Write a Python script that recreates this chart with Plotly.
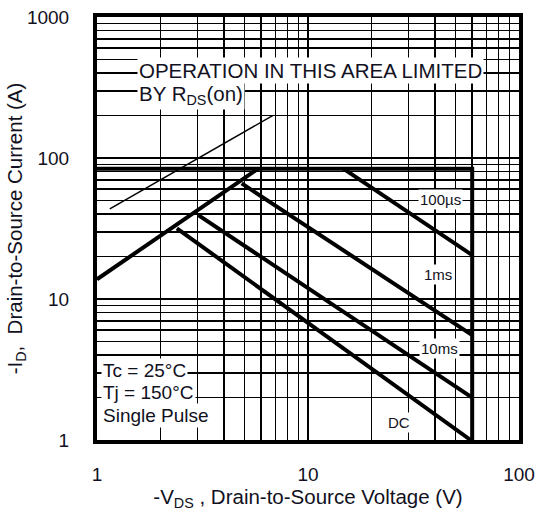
import math
import plotly.graph_objects as go

# ---- data ----
limit_v = [1, 60, 60]
limit_i = [84, 84, 1]
rds_v = [1, 5.8]
rds_i = [13.8, 84]
us100_v = [14.7, 60]
us100_i = [84, 20.5]
ms1_v = [4.85, 60]
ms1_i = [66, 5.55]
ms10_v = [3.02, 60]
ms10_i = [39.4, 2.0]
dc_v = [2.39, 59]
dc_i = [31.7, 1.0]
ref_v = [1.15, 6.8]
ref_i = [43.5, 200]

x_major = [1, 10, 100]
x_major_text = ["1", "10", "100"]
x_minor = [2, 3, 4, 5, 6, 7, 8, 9, 20, 30, 40, 50, 60, 70, 80, 90]
y_major = [1, 10, 100, 1000]
y_major_text = ["1", "10", "100", "1000"]
y_minor = [2, 3, 4, 5, 6, 7, 8, 9, 20, 30, 40, 50, 60, 70, 80, 90,
           200, 300, 400, 500, 600, 700, 800, 900]

FONT = "Liberation Sans, Arial, sans-serif"
INK = "#111122"

fig = go.Figure()
thick = dict(color="black", width=4)
for xs, ys in [(limit_v, limit_i), (rds_v, rds_i), (us100_v, us100_i),
               (ms1_v, ms1_i), (ms10_v, ms10_i), (dc_v, dc_i)]:
    fig.add_trace(go.Scatter(x=xs, y=ys, mode="lines", line=thick,
                             hoverinfo="skip", showlegend=False))
fig.add_trace(go.Scatter(x=ref_v, y=ref_i, mode="lines",
                         line=dict(color="black", width=1.5),
                         hoverinfo="skip", showlegend=False))

def ann(text, v, i, size, xanchor="center"):
    fig.add_annotation(x=math.log10(v), y=math.log10(i), xref="x", yref="y",
                       text=text, showarrow=False, xanchor=xanchor,
                       yanchor="middle", bgcolor="white", borderpad=1,
                       font=dict(family=FONT, size=size, color=INK))

ann("OPERATION IN THIS AREA LIMITED", 1.55, 420, 20.5, "left")
ann("BY R<sub>DS</sub>(on)", 1.55, 282, 20.5, "left")
ann("100µs", 42.3, 50.4, 15)
ann("1ms", 41.3, 14.8, 15)
ann("10ms", 41.8, 4.49, 15)
ann("DC", 27.0, 1.34, 15)
ann("Tc = 25°C", 1.04, 3.13, 19, "left")
ann("Tj = 150°C", 1.04, 2.19, 19, "left")
ann("Single Pulse", 1.04, 1.5, 19, "left")

grid = dict(showgrid=True, gridcolor="black", gridwidth=1.6)
axis_common = dict(
    showline=True, linecolor="black", linewidth=4, mirror=True,
    ticks="", zeroline=False, automargin=False,
    ticklabeloverflow="allow",
    tickfont=dict(family=FONT, size=19, color=INK),
    **grid,
)

fig.update_xaxes(type="log", range=[0, 2],
                 tickvals=x_major, ticktext=x_major_text,
                 minor=dict(tickvals=x_minor, ticks="", **grid),
                 ticklabelstandoff=14,
                 title=dict(text="-V<sub>DS</sub> , Drain-to-Source Voltage (V)",
                            font=dict(family=FONT, size=20.5, color=INK),
                            standoff=0),
                 **axis_common)
fig.update_yaxes(type="log", range=[0, 3],
                 tickvals=y_major, ticktext=y_major_text,
                 minor=dict(tickvals=y_minor, ticks="", **grid),
                 ticklabelstandoff=20,
                 title=dict(text="-I<sub>D</sub>,  Drain-to-Source Current (A)",
                            font=dict(family=FONT, size=20.5, color=INK),
                            standoff=0),
                 **axis_common)

fig.update_layout(
    width=535, height=525,
    margin=dict(l=97, r=16, t=17, b=85),
    paper_bgcolor="white", plot_bgcolor="white",
    showlegend=False,
)

fig.write_html(
    "out.html",
    config={"displayModeBar": False, "staticPlot": True},
    post_script="document.body.style.margin='0';document.body.style.overflow='hidden';",
)
